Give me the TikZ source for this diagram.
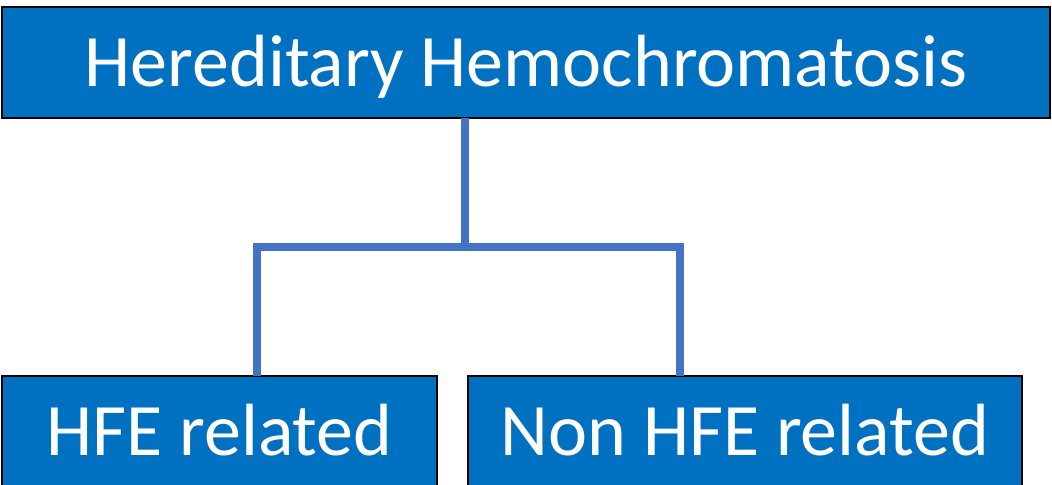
\documentclass[tikz,border=0pt]{standalone}
\usepackage{fontspec}
\setmainfont{Carlito}
\definecolor{boxblue}{HTML}{0070C0}
\definecolor{linkblue}{HTML}{4472C4}
\tikzset{
  entry/.style={draw=black,line width=1pt,fill=boxblue,text=white,
    inner sep=0pt,outer sep=0pt,minimum height=55.5pt,
    font=\fontsize{37}{40}\selectfont,text height=24.3pt,text depth=0pt},
  link/.style={draw=linkblue,line width=4pt}
}
\begin{document}
\begin{tikzpicture}[x=0.5pt,y=-0.5pt]
\useasboundingbox (0,0) rectangle (1052,484);
\node[entry,minimum width=524pt] (top) at (526,62.5) {Hereditary Hemochromatosis};
\node[entry,minimum width=217.5pt] (hfe) at (219.5,431.5) {HFE related};
\node[entry,minimum width=277pt] (nonhfe) at (745,431.5) {Non HFE related};
\coordinate (split) at (465,247);
\coordinate (lj) at (257,247);
\coordinate (rj) at (680,247);
\draw[link] (top.south -| split) -- (split);
\draw[link] (hfe.north -| lj) -- (lj) -- (rj) -- (nonhfe.north -| rj);
\end{tikzpicture}
\end{document}
